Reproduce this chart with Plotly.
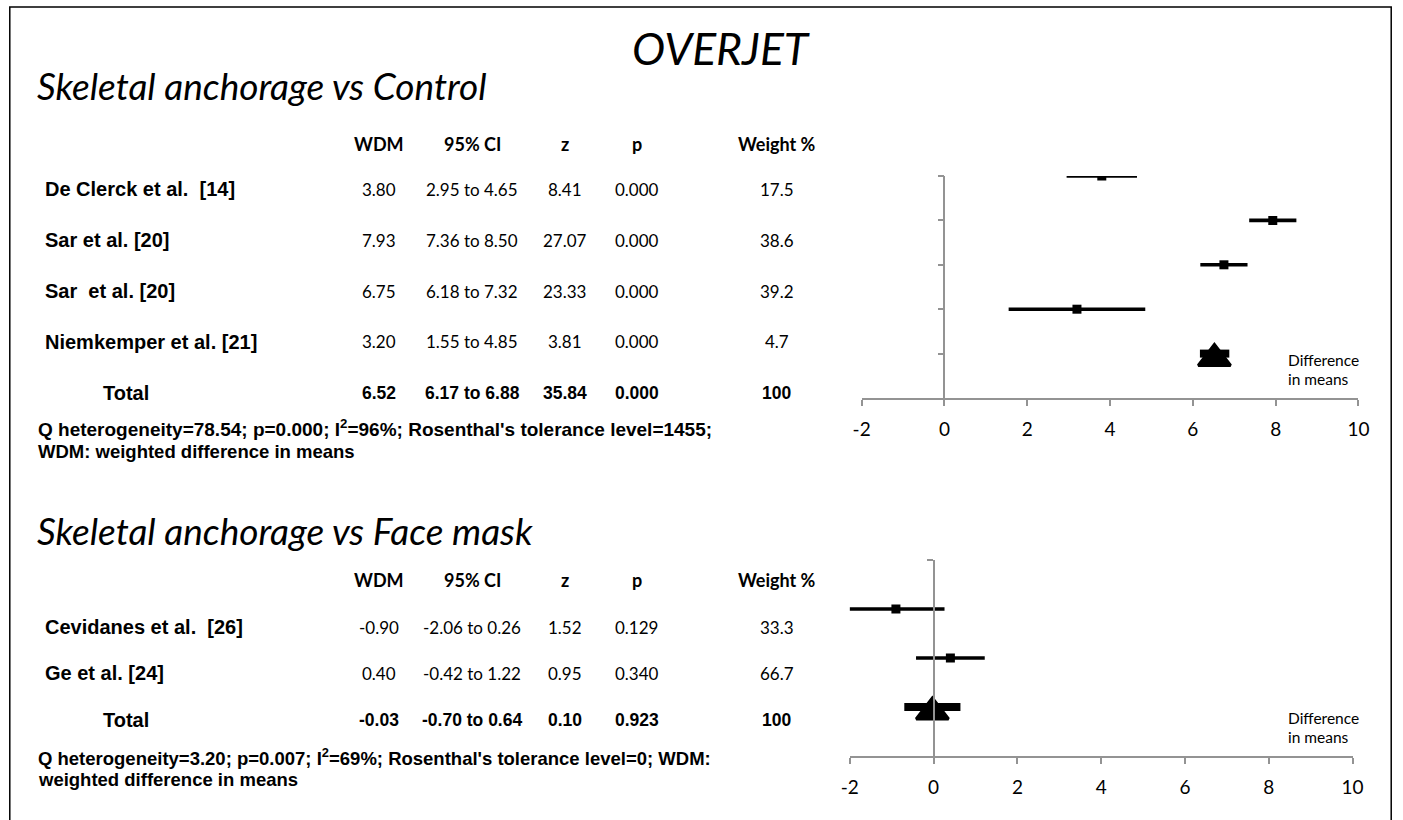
import plotly.graph_objects as go

# ---- Skeletal anchorage vs Control ----
studies1 = ["De Clerck et al.  [14]", "Sar et al. [20]", "Sar  et al. [20]", "Niemkemper et al. [21]"]
wdm1 = [3.80, 7.93, 6.75, 3.20]
lo1 = [2.95, 7.36, 6.18, 1.55]
hi1 = [4.65, 8.50, 7.32, 4.85]
z1 = [8.41, 27.07, 23.33, 3.81]
p1 = [0.000, 0.000, 0.000, 0.000]
w1 = [17.5, 38.6, 39.2, 4.7]
total1 = {"wdm": 6.52, "lo": 6.17, "hi": 6.88, "z": 35.84, "p": 0.000, "w": 100}
note1 = ["Q heterogeneity=78.54; p=0.000; I<sup>2</sup>=96%; Rosenthal's tolerance level=1455;",
         "WDM: weighted difference in means"]

# ---- Skeletal anchorage vs Face mask ----
studies2 = ["Cevidanes et al.  [26]", "Ge et al. [24]"]
wdm2 = [-0.90, 0.40]
lo2 = [-2.06, -0.42]
hi2 = [0.26, 1.22]
z2 = [1.52, 0.95]
p2 = [0.129, 0.340]
w2 = [33.3, 66.7]
total2 = {"wdm": -0.03, "lo": -0.70, "hi": 0.64, "z": 0.10, "p": 0.923, "w": 100}
note2 = ["Q heterogeneity=3.20; p=0.007; I<sup>2</sup>=69%; Rosenthal's tolerance level=0; WDM:",
         "weighted difference in means"]

headers = ["WDM", "95% CI", "z", "p", "Weight %"]
x_ticks = [-2, 0, 2, 4, 6, 8, 10]
x_tick_labels = ["-2", "0", "2", "4", "6", "8", "10"]

W, H = 1403, 820
CAL = "Lato, 'Open Sans', sans-serif"
ARIAL = "'Liberation Sans', Arial, sans-serif"
AXIS_GREY = "#939393"


def px(x):
    return x / W


def py(y):
    return 1 - y / H


fig = go.Figure()
annotations = []


def text(x, y, s, size, family, xanchor="center", bold=False, italic=False, color="black"):
    if bold:
        s = "<b>" + s + "</b>"
    if italic:
        s = "<i>" + s + "</i>"
    annotations.append(dict(x=px(x), y=py(y), xref="paper", yref="paper", text=s,
                            showarrow=False, xanchor=xanchor, yanchor="middle",
                            font=dict(size=size, family=family, color=color)))


def forest(studies, wdm, lo, hi, total, xa, ya, tri_drop):
    n = len(studies)
    rows = list(range(n + 1, 1, -1))  # study rows from top, pooled estimate on row 1
    # confidence-interval whiskers
    xs, ys = [], []
    for r, a, b in zip(rows, lo, hi):
        xs += [a, b, None]
        ys += [r, r, None]
    fig.add_trace(go.Scatter(x=xs, y=ys, mode="lines", line=dict(color="black", width=3.6),
                             xaxis=xa, yaxis=ya, hoverinfo="skip", showlegend=False))
    fig.add_trace(go.Scatter(x=wdm, y=rows, mode="markers",
                             marker=dict(symbol="square", size=9, color="black"),
                             xaxis=xa, yaxis=ya, showlegend=False))
    # pooled estimate: thick CI bar and a triangle
    fig.add_trace(go.Scatter(x=[total["lo"], total["hi"]], y=[1, 1], mode="lines",
                             line=dict(color="black", width=8),
                             xaxis=xa, yaxis=ya, hoverinfo="skip", showlegend=False))
    fig.add_trace(go.Scatter(x=[total["wdm"]], y=[1 - tri_drop], mode="markers",
                             marker=dict(symbol="triangle-up", size=28, color="black",
                                         line=dict(color="black", width=3)),
                             xaxis=xa, yaxis=ya, showlegend=False))


forest(studies1, wdm1, lo1, hi1, total1, "x", "y", 0.11)
forest(studies2, wdm2, lo2, hi2, total2, "x2", "y2", 0.10)

# axes geometry (pixels)
top_x0, top_x1 = 865, 1369
bot_x0, bot_x1 = 853, 1363
top_y0, top_y1 = 398, 176
bot_y0, bot_y1 = 756, 560


def zero_pos(x0, x1):
    return px(x0 + (x1 - x0) * 2 / 12)


xaxis_common = dict(range=[-2, 10], tickvals=x_ticks, ticktext=x_tick_labels,
                    ticks="outside", ticklen=6, tickwidth=1.5,
                    tickcolor=AXIS_GREY, showline=True, linecolor=AXIS_GREY, linewidth=1.6,
                    showgrid=False, zeroline=False, ticklabelstandoff=7,
                    tickfont=dict(family=CAL, size=19, color="black"))
yaxis_common = dict(showgrid=False, zeroline=False, showline=True, linecolor=AXIS_GREY,
                    linewidth=1.6, ticks="outside", ticklen=6, tickwidth=1.5,
                    tickcolor=AXIS_GREY, showticklabels=False, anchor="free")

fig.update_layout(
    xaxis=dict(domain=[px(top_x0), px(top_x1)], anchor="y", **xaxis_common),
    yaxis=dict(domain=[py(top_y0), py(top_y1)], range=[0, 5], tickvals=[1, 2, 3, 4, 5],
               position=zero_pos(top_x0, top_x1), **yaxis_common),
    xaxis2=dict(domain=[px(bot_x0), px(bot_x1)], anchor="y2", **xaxis_common),
    yaxis2=dict(domain=[py(bot_y0), py(bot_y1)], range=[0, 4], tickvals=[4],
                position=zero_pos(bot_x0, bot_x1), **yaxis_common),
)

# ---- titles ----
text(722, 47, "OVERJET", 44.5, CAL, italic=True)
text(26, 86, "Skeletal anchorage vs Control", 37, CAL, xanchor="left", italic=True)
text(26, 530, "Skeletal anchorage vs Face mask", 37, CAL, xanchor="left", italic=True)

col_x = [375, 470, 564, 637, 779]


def table(studies, wdm, lo, hi, z, p, w, total, note, y_head, row_ys, y_total, note_ys, note_sizes):
    for cx, h in zip(col_x, headers):
        text(cx, y_head, h, 18, CAL, bold=True)
    for yy, s, a, l, hh, zz, pp, ww in zip(row_ys, studies, wdm, lo, hi, z, p, w):
        text(34, yy, s, 20, ARIAL, xanchor="left", bold=True)
        vals = [f"{a:.2f}", f"{l:.2f} to {hh:.2f}", f"{zz:.2f}", f"{pp:.3f}", f"{ww:.1f}"]
        for cx, v in zip(col_x, vals):
            text(cx, yy, v, 17, CAL)
    text(93, y_total, "Total", 20, ARIAL, xanchor="left", bold=True)
    tv = [f"{total['wdm']:.2f}", f"{total['lo']:.2f} to {total['hi']:.2f}", f"{total['z']:.2f}",
          f"{total['p']:.3f}", f"{total['w']}"]
    for cx, v in zip(col_x, tv):
        text(cx, y_total, v, 17.5, ARIAL, bold=True)
    for line, yy, sz in zip(note, note_ys, note_sizes):
        text(27, yy, line, sz, ARIAL, xanchor="left", bold=True)


table(studies1, wdm1, lo1, hi1, z1, p1, w1, total1, note1, 144, [189, 240, 291, 342], 393,
      [428, 451], [19, 18.5])
table(studies2, wdm2, lo2, hi2, z2, p2, w2, total2, note2, 580, [627, 673], 720,
      [757, 779], [18.5, 18.5])

# axis captions
for y0 in (360, 718):
    text(1295, y0, "Difference", 15.5, CAL, xanchor="left")
    text(1295, y0 + 19, "in means", 15.5, CAL, xanchor="left")

fig.update_layout(
    annotations=annotations,
    shapes=[dict(type="rect", xref="paper", yref="paper", x0=px(0.8), x1=px(1402.2),
                 y0=py(835), y1=py(7),
                 line=dict(color="black", width=1.5), fillcolor="rgba(0,0,0,0)")],
    width=W, height=H, margin=dict(l=0, r=0, t=0, b=0),
    paper_bgcolor="white", plot_bgcolor="white", showlegend=False,
)

fig.write_html("out.html")
